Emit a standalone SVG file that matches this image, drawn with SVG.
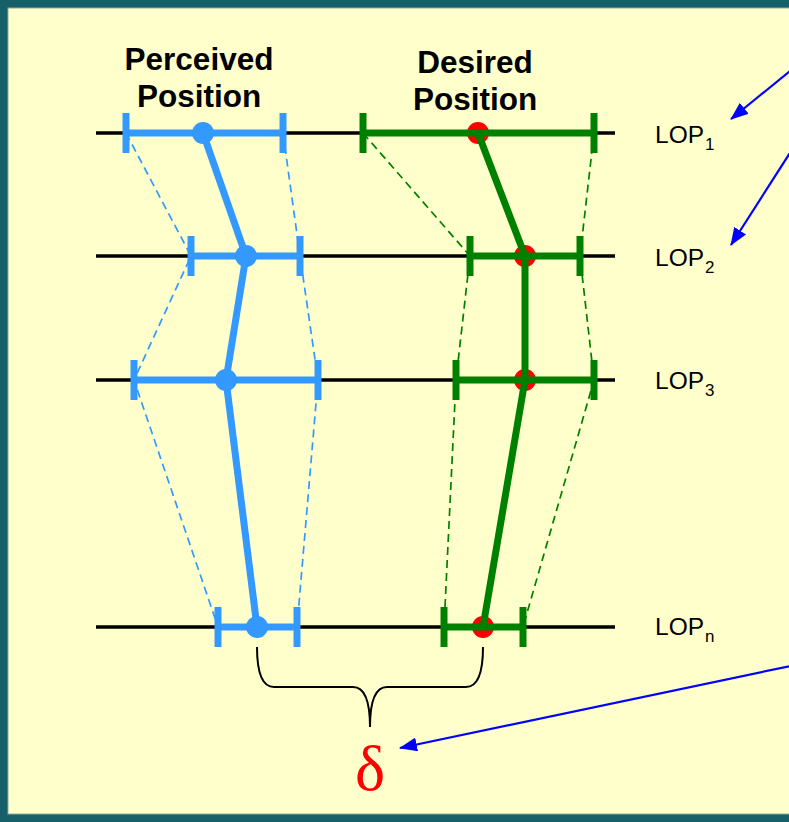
<svg xmlns="http://www.w3.org/2000/svg" width="789" height="822" viewBox="0 0 789 822">
<style>
.lop{stroke:#000;stroke-width:3.5;fill:none}
.bbar{stroke:#3399FF;stroke-width:7;fill:none}
.gbar{stroke:#008000;stroke-width:7;fill:none}
.bdash{stroke:#3399FF;stroke-width:1.7;stroke-dasharray:8 5;fill:none}
.gdash{stroke:#008000;stroke-width:1.7;stroke-dasharray:8 5;fill:none}
.bpath{stroke:#3399FF;stroke-width:7;fill:none;stroke-linejoin:round}
.gpath{stroke:#008000;stroke-width:7;fill:none;stroke-linejoin:round}
.title{font-family:"Liberation Sans",Arial,sans-serif;font-weight:bold;font-size:31.5px;fill:#000;text-anchor:middle}
.lbl{font-family:"Liberation Sans",Arial,sans-serif;font-size:24.5px;fill:#000}
.sub{font-size:17px}
.arrow{stroke:#0000FF;stroke-width:2.2;fill:none;marker-end:url(#ah)}
</style>
<defs>
<marker id="ah" viewBox="0 0 18 14" refX="17" refY="7" markerWidth="18" markerHeight="14" markerUnits="userSpaceOnUse" orient="auto">
<path d="M0,0 L18,7 L0,14 Z" fill="#0000FF"/>
</marker>
</defs>
<rect x="0" y="0" width="789" height="822" fill="#17606A"/>
<rect x="8" y="8" width="790" height="806" fill="#FFFFCC" stroke="#8FA9A0" stroke-width="1"/>

<g id="lop-lines">
<line class="lop" x1="96" y1="133" x2="615" y2="133"/>
<line class="lop" x1="96" y1="256" x2="615" y2="256"/>
<line class="lop" x1="96" y1="380" x2="615" y2="380"/>
<line class="lop" x1="96" y1="627" x2="615" y2="627"/>
</g>

<g id="connectors">
<path class="bdash" d="M126,133 L191,256 L134,380 L218,627"/>
<path class="bdash" d="M283,133 L300,256 L318,380 L297,627"/>
<path class="gdash" d="M363,133 L470,256 L456,380 L444,627"/>
<path class="gdash" d="M594,133 L580,256 L594,380 L523,627"/>
<line class="arrow" x1="795" y1="67" x2="731" y2="119"/>
<line class="arrow" x1="795" y1="145" x2="731" y2="245"/>
<line class="arrow" x1="795" y1="665" x2="400" y2="748"/>
</g>

<g id="perceived">
<text class="title" x="199" y="70">Perceived</text>
<text class="title" x="199" y="107">Position</text>
<g id="perceived-bars">
<line class="bbar" x1="126" y1="133" x2="283" y2="133"/>
<line class="bbar" x1="126" y1="113" x2="126" y2="153"/>
<line class="bbar" x1="283" y1="113" x2="283" y2="153"/>
<line class="bbar" x1="191" y1="256" x2="300" y2="256"/>
<line class="bbar" x1="191" y1="236" x2="191" y2="276"/>
<line class="bbar" x1="300" y1="236" x2="300" y2="276"/>
<line class="bbar" x1="134" y1="380" x2="318" y2="380"/>
<line class="bbar" x1="134" y1="360" x2="134" y2="400"/>
<line class="bbar" x1="318" y1="360" x2="318" y2="400"/>
<line class="bbar" x1="218" y1="627" x2="297" y2="627"/>
<line class="bbar" x1="218" y1="607" x2="218" y2="647"/>
<line class="bbar" x1="297" y1="607" x2="297" y2="647"/>
</g>
<path class="bpath" d="M203,133 L246,256 L226,380 L257,627"/>
<g fill="#3399FF">
<circle cx="203" cy="133" r="11"/>
<circle cx="246" cy="256" r="11"/>
<circle cx="226" cy="380" r="11"/>
<circle cx="257" cy="627" r="11"/>
</g>
</g>

<g id="desired">
<text class="title" x="475" y="73">Desired</text>
<text class="title" x="475" y="110">Position</text>
<g fill="#FF0000">
<circle cx="478" cy="133" r="11"/>
<circle cx="525" cy="256" r="11"/>
<circle cx="525" cy="380" r="11"/>
<circle cx="483" cy="627" r="11"/>
</g>
<g id="desired-bars">
<line class="gbar" x1="363" y1="133" x2="594" y2="133"/>
<line class="gbar" x1="363" y1="113" x2="363" y2="153"/>
<line class="gbar" x1="594" y1="113" x2="594" y2="153"/>
<line class="gbar" x1="470" y1="256" x2="580" y2="256"/>
<line class="gbar" x1="470" y1="236" x2="470" y2="276"/>
<line class="gbar" x1="580" y1="236" x2="580" y2="276"/>
<line class="gbar" x1="456" y1="380" x2="594" y2="380"/>
<line class="gbar" x1="456" y1="360" x2="456" y2="400"/>
<line class="gbar" x1="594" y1="360" x2="594" y2="400"/>
<line class="gbar" x1="444" y1="627" x2="523" y2="627"/>
<line class="gbar" x1="444" y1="607" x2="444" y2="647"/>
<line class="gbar" x1="523" y1="607" x2="523" y2="647"/>
</g>
<path class="gpath" d="M478,133 L525,256 L525,380 L483,627"/>
</g>

<g id="lop-labels">
<text class="lbl" x="655" y="143">LOP<tspan class="sub" dx="1" dy="7">1</tspan></text>
<text class="lbl" x="655" y="266">LOP<tspan class="sub" dx="1" dy="7">2</tspan></text>
<text class="lbl" x="655" y="389">LOP<tspan class="sub" dx="1" dy="7">3</tspan></text>
<text class="lbl" x="655" y="635">LOP<tspan class="sub" dx="1" dy="7">n</tspan></text>
</g>

<g id="delta">
<path d="M257,647 Q257,687 274,687 L353,687 Q370,687 370,727 Q370,687 387,687 L466,687 Q483,687 483,647" fill="none" stroke="#000" stroke-width="2"/>
<text x="370" y="790" font-family="'Liberation Serif','Times New Roman',serif" font-size="64" fill="#FF0000" text-anchor="middle">δ</text>
</g>
</svg>
